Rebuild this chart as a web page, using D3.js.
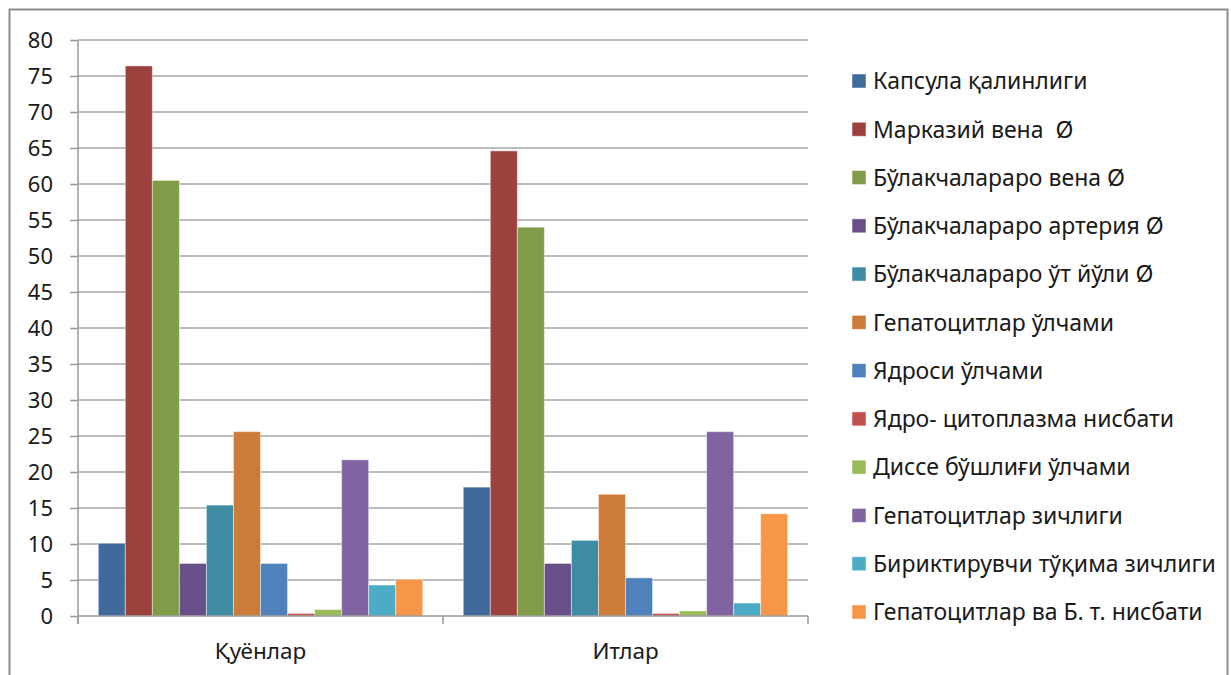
<!DOCTYPE html>
<html>
<head>
<meta charset="utf-8">
<script src="https://cdn.jsdelivr.net/npm/d3@7"></script>
<style>
  body { margin: 0; background: #fff; }
  svg text { font-family: "Noto Sans", "Open Sans", sans-serif; fill: #1a1a1a; }
</style>
</head>
<body>
<div id="chart"></div>
<script>
// Категориялар
const categories = ["Қуёнлар", "Итлар"];

// Кўрсаткичлар (легенда)
const seriesNames = [
  "Капсула қалинлиги",
  "Марказий вена\u00a0 Ø",
  "Бўлакчалараро вена Ø",
  "Бўлакчалараро артерия Ø",
  "Бўлакчалараро ўт йўли Ø",
  "Гепатоцитлар ўлчами",
  "Ядроси ўлчами",
  "Ядро- цитоплазма нисбати",
  "Диссе бўшлиғи ўлчами",
  "Гепатоцитлар зичлиги",
  "Бириктирувчи тўқима зичлиги",
  "Гепатоцитлар ва Б. т. нисбати"
];

// Қийматлар: ҳар бир кўрсаткич учун [Қуёнлар, Итлар]
const rabbitValues = [10.1, 76.4, 60.5, 7.3, 15.4, 25.6, 7.3, 0.35, 0.9, 21.7, 4.3, 5.1];
const dogValues = [17.9, 64.6, 54.0, 7.3, 10.5, 16.9, 5.3, 0.35, 0.7, 25.6, 1.8, 14.2];

const yTicks = d3.range(0, 81, 5);

const colors = [
  "#40699c", "#9d413f", "#809c48", "#684f87", "#3d8ca3", "#cd7b38",
  "#4f81bd", "#c0504d", "#9bbb59", "#8064a2", "#4bacc6", "#f79646"
];

const width = 1231, height = 675;
const plot = { left: 78, right: 808, top: 40, bottom: 616 };

const svg = d3.select("#chart").append("svg")
  .attr("width", width)
  .attr("height", height);

// рамка
svg.append("rect")
  .attr("x", 9.5).attr("y", 9.5)
  .attr("width", 1218).attr("height", 700)
  .attr("fill", "none")
  .attr("stroke", "#8c8c8c")
  .attr("stroke-width", 2);

const x0 = d3.scaleBand()
  .domain(categories)
  .range([plot.left, plot.right])
  .paddingInner(0)
  .paddingOuter(0);

const x1 = d3.scaleBand()
  .domain(d3.range(seriesNames.length))
  .range([0, x0.bandwidth()])
  .paddingOuter(0.75)
  .paddingInner(0);

const y = d3.scaleLinear().domain([0, 80]).range([plot.bottom, plot.top]);

// тўр чизиқлари
svg.append("g")
  .selectAll("line")
  .data(yTicks.filter(d => d > 0))
  .join("line")
  .attr("x1", plot.left).attr("x2", plot.right)
  .attr("y1", d => y(d)).attr("y2", d => y(d))
  .attr("stroke", "#a6a6a6")
  .attr("stroke-width", 1.6);

// Y ўқи
const yAxis = svg.append("g")
  .attr("transform", `translate(${plot.left},0)`)
  .call(d3.axisLeft(y).tickValues(yTicks).tickSize(8).tickPadding(17));
yAxis.select(".domain").attr("stroke", "#9a9a9a").attr("stroke-width", 1.5)
  .attr("d", `M0,${plot.top}V${plot.bottom + 8}`);
yAxis.selectAll(".tick line").attr("stroke", "#9a9a9a").attr("stroke-width", 1.5);
yAxis.selectAll(".tick text").attr("font-size", "22px").attr("fill", "#1a1a1a");

// устунлар
const data = categories.map((c, ci) => ({
  cat: c,
  values: seriesNames.map((s, si) => ({ si, v: ci === 0 ? rabbitValues[si] : dogValues[si] }))
}));

svg.append("g")
  .selectAll("g")
  .data(data)
  .join("g")
  .attr("transform", d => `translate(${x0(d.cat)},0)`)
  .selectAll("rect")
  .data(d => d.values)
  .join("rect")
  .attr("x", d => x1(d.si))
  .attr("y", d => y(d.v))
  .attr("width", x1.bandwidth())
  .attr("height", d => y(0) - y(d.v))
  .attr("fill", d => colors[d.si])
  .attr("stroke", "rgba(255,255,255,0.45)")
  .attr("stroke-width", 1);

// X ўқи
const xAxis = svg.append("g")
  .attr("transform", `translate(0,${plot.bottom})`)
  .call(d3.axisBottom(x0).tickSize(0).tickPadding(27));
xAxis.select(".domain").attr("stroke", "#9a9a9a").attr("stroke-width", 1.5)
  .attr("d", `M${plot.left},0H${plot.right}`);
xAxis.selectAll(".tick text").attr("font-size", "22.5px").attr("fill", "#1a1a1a");
svg.append("g")
  .selectAll("line")
  .data([plot.left, x0.range()[0] + x0.bandwidth(), plot.right])
  .join("line")
  .attr("x1", d => d).attr("x2", d => d)
  .attr("y1", plot.bottom).attr("y2", plot.bottom + 8)
  .attr("stroke", "#9a9a9a").attr("stroke-width", 1.5);

// легенда
const legend = svg.append("g")
  .selectAll("g")
  .data(seriesNames)
  .join("g")
  .attr("transform", (d, i) => `translate(852, ${81 + i * 48.27})`);

legend.append("rect")
  .attr("x", 0).attr("y", -7)
  .attr("width", 14).attr("height", 14)
  .attr("fill", (d, i) => colors[i])
  .attr("stroke", "rgba(255,255,255,0.5)")
  .attr("stroke-width", 1);

legend.append("text")
  .attr("x", 21)
  .attr("y", 0)
  .attr("dy", "0.36em")
  .attr("font-size", "23px")
  .text(d => d);
</script>
</body>
</html>
